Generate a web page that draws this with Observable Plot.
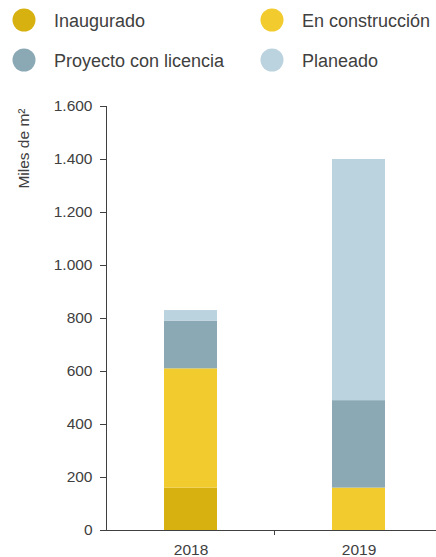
<!DOCTYPE html>
<html>
<head>
<meta charset="utf-8">
<script src="https://cdn.jsdelivr.net/npm/d3@7"></script>
<script src="https://cdn.jsdelivr.net/npm/@observablehq/plot@0.6"></script>
<style>
  body { margin: 0; background: #fff; font-family: "Liberation Sans", Arial, sans-serif; }
  #legend { display: block; }
</style>
</head>
<body>
<div id="chart"></div>
<script>
const years = ["2018", "2019"];
const categories = ["Inaugurado", "En construcción", "Proyecto con licencia", "Planeado"];
const inaugurado = [160, 0];
const enConstruccion = [450, 160];
const proyectoConLicencia = [180, 330];
const planeado = [40, 910];
const colors = ["#D6B10F", "#F2CB2F", "#8AA9B5", "#BBD2DF"];
const yTicks = [0, 200, 400, 600, 800, 1000, 1200, 1400, 1600];
const yLabel = "Miles de m²";

const series = [inaugurado, enConstruccion, proyectoConLicencia, planeado];
const data = years.flatMap((year, i) =>
  categories.map((cat, j) => ({ year, cat, value: series[j][i] }))
);
const fmt = d => d3.format(",")(d).replace(/,/g, ".");
const textColor = "#404040";

// Legend
const legend = d3.create("svg")
  .attr("id", "legend")
  .attr("width", 436)
  .attr("height", 82)
  .style("font-family", "'Liberation Sans', Arial, sans-serif");
const legendPos = [[24, 20], [272, 20], [24, 60], [272, 60]];
categories.forEach((cat, j) => {
  const [cx, cy] = legendPos[j];
  const g = legend.append("g");
  g.append("circle").attr("cx", cx).attr("cy", cy).attr("r", 11.5).attr("fill", colors[j]);
  g.append("text").attr("x", cx + 30).attr("y", cy + 7)
    .attr("font-size", 18).attr("fill", textColor).text(cat);
});
document.getElementById("chart").append(legend.node());

const plot = Plot.plot({
  width: 436,
  height: 475,
  marginLeft: 106,
  marginRight: 0,
  marginTop: 24,
  marginBottom: 27,
  style: { fontFamily: "'Liberation Sans', Arial, sans-serif", fontSize: "15.5px", color: textColor, background: "#fff" },
  x: { domain: years, range: [106, 442], paddingInner: 0.685, paddingOuter: 0.3425, label: null, tickSize: 0, tickPadding: 13 },
  y: { domain: [0, 1600], ticks: yTicks, tickFormat: fmt, label: null, tickSize: 6, tickPadding: 8, line: true },
  color: { domain: categories, range: colors },
  marks: [
    Plot.barY(data, { x: "year", y: "value", fill: "cat", order: categories }),
    Plot.ruleY([0], { stroke: textColor }),
    Plot.text([yLabel], { frameAnchor: "top-left", rotate: -90, textAnchor: "end", dx: -89, dy: 2, fontSize: 15.5, fill: textColor })
  ]
});

// separator tick between the two year bands
const xs = plot.scale("x");
const ys = plot.scale("y");
const sep = xs.apply(years[0]) + xs.bandwidth + (xs.step - xs.bandwidth) / 2;
const y0 = ys.apply(0);
d3.select(plot).append("line")
  .attr("x1", sep).attr("x2", sep)
  .attr("y1", y0).attr("y2", y0 + 5)
  .attr("stroke", textColor);

document.getElementById("chart").append(plot);
</script>
</body>
</html>
